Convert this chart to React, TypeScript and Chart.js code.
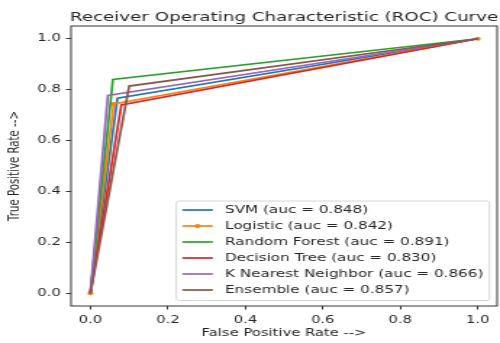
import React, { useEffect, useRef } from 'react';
import { Chart, registerables } from 'chart.js';

Chart.register(...registerables);

// ---- data ----
const chartTitle = 'Receiver Operating Characteristic (ROC) Curve';
const xAxisTitle = 'False Positive Rate -->';
const yAxisTitle = 'True Positive Rate -->';

const modelNames = ['SVM', 'Logistic', 'Random Forest', 'Decision Tree', 'K Nearest Neighbor', 'Ensemble'];
const aucValues = [0.848, 0.842, 0.891, 0.830, 0.866, 0.857];

const svmFpr = [0, 0.07, 1];
const svmTpr = [0, 0.766, 1];
const logisticFpr = [0, 0.06, 1];
const logisticTpr = [0, 0.744, 1];
const forestFpr = [0, 0.058, 1];
const forestTpr = [0, 0.84, 1];
const treeFpr = [0, 0.08, 1];
const treeTpr = [0, 0.74, 1];
const knnFpr = [0, 0.045, 1];
const knnTpr = [0, 0.777, 1];
const ensembleFpr = [0, 0.1, 1];
const ensembleTpr = [0, 0.814, 1];

const xTickValues = [0, 0.2, 0.4, 0.6, 0.8, 1.0];
const yTickValues = [0, 0.2, 0.4, 0.6, 0.8, 1.0];

// ---- styles ----
const colors = ['#1f77b4', '#ff7f0e', '#2ca02c', '#d62728', '#9467bd', '#8c564b'];
const markerRadius = [0, 2, 0, 0, 0, 0];
const FONT = '"DejaVu Sans", "Liberation Sans", sans-serif';
const BASE = 10.2;
const TEXT = '#262626';
const LOGICAL_W = 345;
const H = 343;

const curves = [
  [svmFpr, svmTpr],
  [logisticFpr, logisticTpr],
  [forestFpr, forestTpr],
  [treeFpr, treeTpr],
  [knnFpr, knnTpr],
  [ensembleFpr, ensembleTpr],
];

const framePlugin = {
  id: 'mplFrame',
  afterDatasetsDraw(chart: any) {
    const { ctx, chartArea } = chart;
    ctx.save();
    ctx.strokeStyle = '#333';
    ctx.lineWidth = 1;
    ctx.strokeRect(chartArea.left, chartArea.top, chartArea.right - chartArea.left, chartArea.bottom - chartArea.top);
    ctx.restore();
  },
};

const titlePlugin = {
  id: 'mplTitle',
  afterDraw(chart: any) {
    const { ctx, chartArea } = chart;
    ctx.save();
    ctx.font = `12.6px ${FONT}`;
    ctx.fillStyle = TEXT;
    ctx.textAlign = 'center';
    ctx.textBaseline = 'alphabetic';
    ctx.fillText(chartTitle, (chartArea.left + chartArea.right) / 2, chartArea.top - 5.5);
    ctx.restore();
  },
};

const legendPlugin = {
  id: 'mplLegend',
  afterDatasetsDraw(chart: any) {
    const { ctx, chartArea } = chart;
    const fs = 10.5;
    ctx.save();
    ctx.font = `${fs}px ${FONT}`;
    const items = chart.data.datasets.map((ds: any) => ({
      label: ds.label,
      color: ds.borderColor,
      r: ds.pointRadius,
    }));
    const pad = 0.4 * fs;
    const handleLen = 2 * fs;
    const textPad = 0.8 * fs;
    const rowH = 16;
    const maxW = Math.max(...items.map((it: any) => ctx.measureText(it.label).width));
    const boxW = pad + handleLen + textPad + maxW + pad;
    const boxH = items.length * rowH + 3.5;
    const right = chartArea.right - 0.5 * fs;
    const bottom = chartArea.bottom - 5.5;
    const left = right - boxW;
    const top = bottom - boxH;
    ctx.beginPath();
    ctx.roundRect(left, top, boxW, boxH, 2);
    ctx.fillStyle = 'rgba(255,255,255,0.8)';
    ctx.fill();
    ctx.strokeStyle = '#d6d6d6';
    ctx.lineWidth = 1;
    ctx.stroke();
    items.forEach((it: any, i: number) => {
      const cy = top + 9 + i * rowH;
      ctx.strokeStyle = it.color;
      ctx.lineWidth = 1.7;
      ctx.beginPath();
      ctx.moveTo(left + pad, cy);
      ctx.lineTo(left + pad + handleLen, cy);
      ctx.stroke();
      if (it.r > 0) {
        ctx.fillStyle = it.color;
        ctx.beginPath();
        ctx.arc(left + pad + handleLen / 2, cy, it.r, 0, Math.PI * 2);
        ctx.fill();
      }
      ctx.fillStyle = TEXT;
      ctx.textAlign = 'left';
      ctx.textBaseline = 'middle';
      ctx.fillText(it.label, left + pad + handleLen + textPad, cy);
    });
    ctx.restore();
  },
};

export default function App() {
  const canvasRef = useRef<HTMLCanvasElement | null>(null);

  useEffect(() => {
    const canvas = canvasRef.current;
    if (!canvas) return;
    const datasets = curves.map(([fpr, tpr], i) => ({
      label: `${modelNames[i]} (auc = ${aucValues[i].toFixed(3)})`,
      data: fpr.map((x, k) => ({ x, y: tpr[k] })),
      borderColor: colors[i],
      backgroundColor: colors[i],
      borderWidth: 1.7,
      pointRadius: markerRadius[i],
      pointHoverRadius: markerRadius[i],
      pointBorderWidth: 0,
      fill: false,
      tension: 0,
      order: curves.length - i,
    }));

    const tickFont = { family: FONT, size: BASE };
    const chart = new Chart(canvas, {
      type: 'line',
      data: { datasets },
      options: {
        animation: false,
        responsive: false,
        devicePixelRatio: 1,
        layout: { padding: { top: 26, right: 1, left: 0, bottom: 0 } },
        plugins: {
          legend: { display: false },
          tooltip: { enabled: false },
          title: { display: false },
        },
        scales: {
          x: {
            type: 'linear',
            min: -0.05,
            max: 1.05,
            border: { display: false },
            grid: { drawOnChartArea: false, drawTicks: true, tickLength: 3.5, color: '#333', lineWidth: 1 },
            ticks: {
              font: tickFont,
              color: TEXT,
              padding: 5,
              maxRotation: 0,
              callback: (v: any) => Number(v).toFixed(1),
            },
            afterBuildTicks: (scale: any) => {
              scale.ticks = xTickValues.map((v) => ({ value: v }));
            },
            afterFit: (scale: any) => {
              scale.height = 37;
            },
            title: {
              display: true,
              text: xAxisTitle,
              font: { family: FONT, size: BASE },
              color: TEXT,
              padding: { top: 0, bottom: 3.5 },
            },
          },
          y: {
            type: 'linear',
            min: -0.05,
            max: 1.05,
            border: { display: false },
            grid: { drawOnChartArea: false, drawTicks: true, tickLength: 3.5, color: '#333', lineWidth: 1 },
            ticks: {
              font: tickFont,
              color: TEXT,
              padding: 3.5,
              callback: (v: any) => Number(v).toFixed(1),
            },
            afterBuildTicks: (scale: any) => {
              scale.ticks = yTickValues.map((v) => ({ value: v }));
            },
            afterFit: (scale: any) => {
              scale.width = 49;
            },
            title: {
              display: true,
              text: yAxisTitle,
              font: { family: FONT, size: BASE },
              color: TEXT,
              padding: { top: 4.2, bottom: 0 },
            },
          },
        },
      },
      plugins: [framePlugin, legendPlugin, titlePlugin],
    } as any);
    return () => chart.destroy();
  }, []);

  return (
    <div style={{ position: 'absolute', left: 0, top: 0, width: 500, height: H, background: '#fff' }}>
      <canvas
        ref={canvasRef}
        width={LOGICAL_W}
        height={H}
        style={{ width: '500px', height: `${H}px`, display: 'block' }}
      />
    </div>
  );
}
